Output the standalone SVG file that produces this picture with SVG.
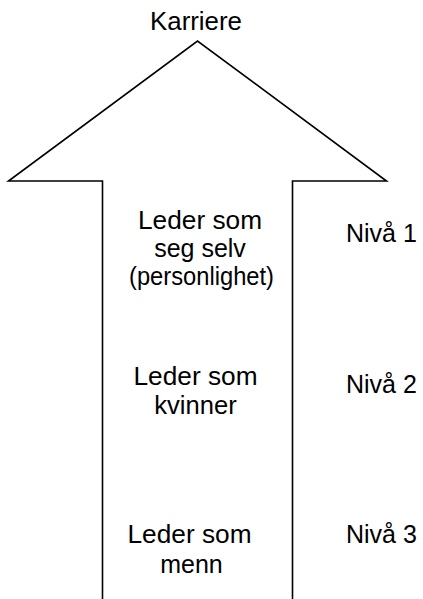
<svg xmlns="http://www.w3.org/2000/svg" width="423" height="599" viewBox="0 0 423 599">
  <style>
    text { font-family: "Liberation Sans", Arial, sans-serif; font-size: 25px; fill: #000; }
    .c { text-anchor: middle; }
    .arrow { fill: #fff; stroke: #000; stroke-width: 1.6; stroke-linejoin: miter; }
  </style>
  <rect width="423" height="599" fill="#fff"/>
  <!-- upward career arrow, shaft open at the bottom edge -->
  <g id="arrow">
    <path class="arrow" d="M102.5,601 L102.5,181 L8.5,181 L197.5,41 L386.5,181 L292.5,181 L292.5,601"/>
  </g>
  <g id="karriere">
    <text class="c" x="196" y="30" textLength="92" lengthAdjust="spacingAndGlyphs">Karriere</text>
  </g>
  <g id="level1">
    <text class="c" x="200" y="229" textLength="124" lengthAdjust="spacingAndGlyphs">Leder som</text>
    <text class="c" x="200" y="257">seg selv</text>
    <text class="c" x="201.5" y="285" textLength="145" lengthAdjust="spacingAndGlyphs">(personlighet)</text>
  </g>
  <g id="level2">
    <text class="c" x="195.5" y="385" textLength="124" lengthAdjust="spacingAndGlyphs">Leder som</text>
    <text class="c" x="195.5" y="414" textLength="82.5" lengthAdjust="spacingAndGlyphs">kvinner</text>
  </g>
  <g id="level3">
    <text class="c" x="189.5" y="543" textLength="124" lengthAdjust="spacingAndGlyphs">Leder som</text>
    <text class="c" x="191.5" y="573">menn</text>
  </g>
  <g id="labels">
    <text x="346" y="242">Nivå 1</text>
    <text x="346" y="393">Nivå 2</text>
    <text x="346" y="543">Nivå 3</text>
  </g>
</svg>
